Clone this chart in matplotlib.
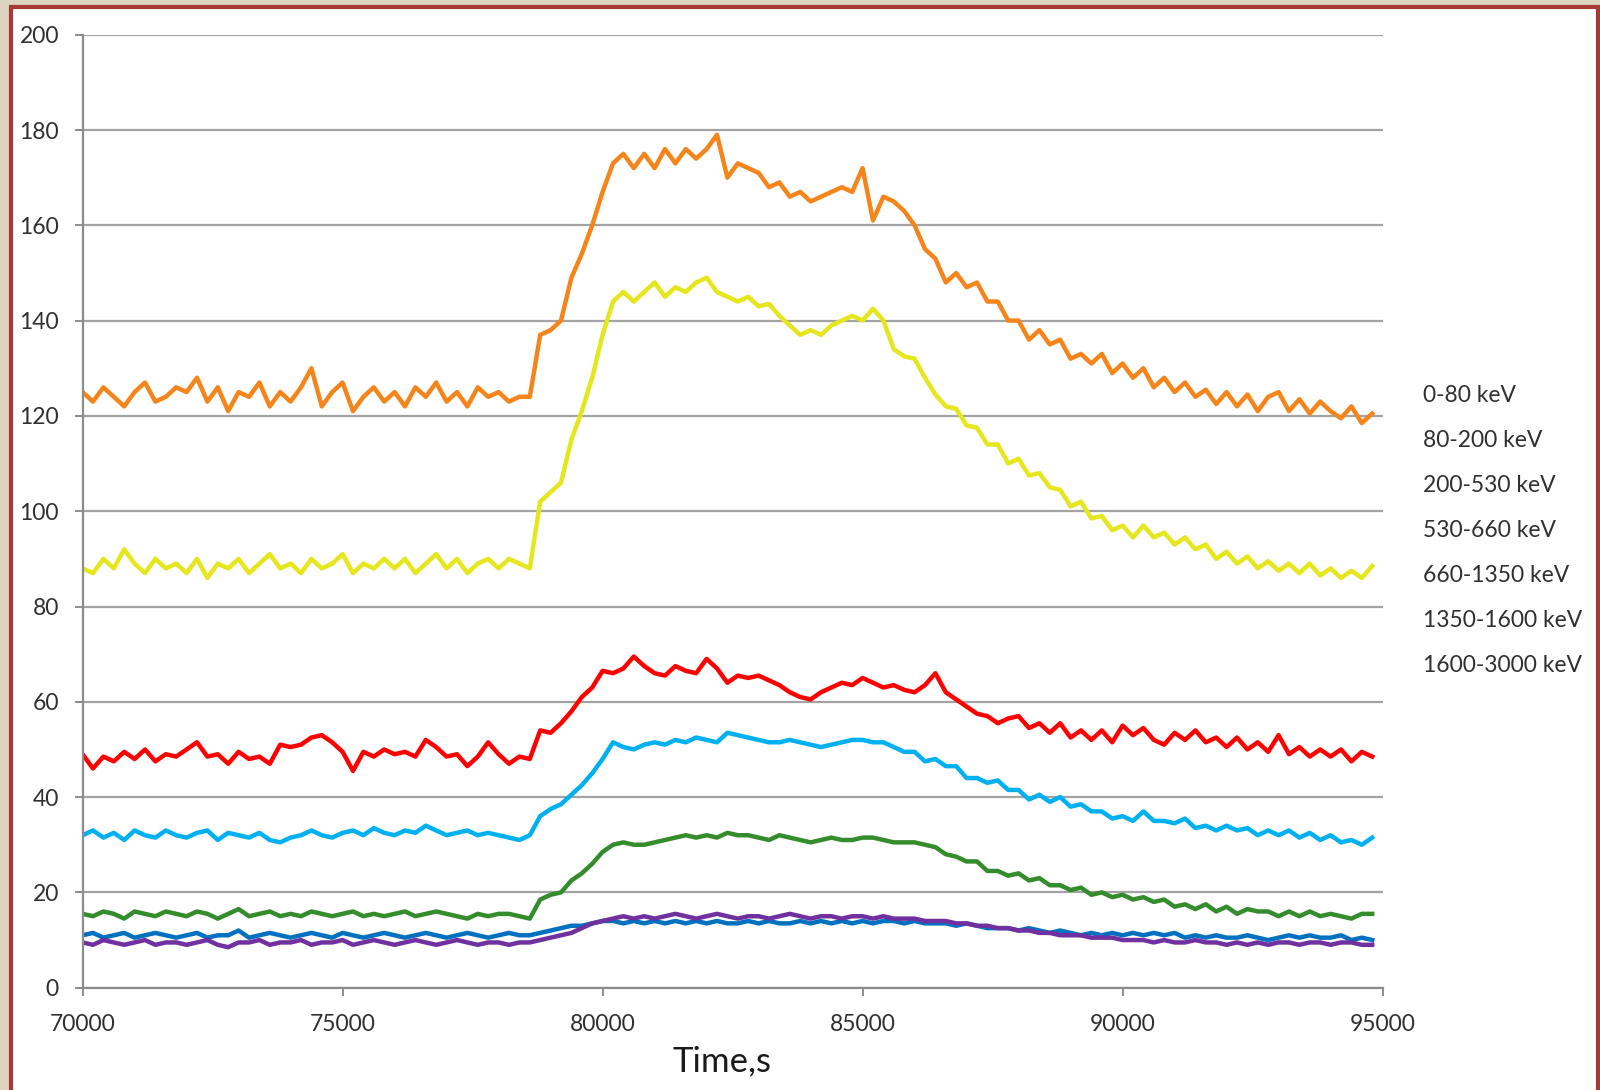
import numpy as np
import matplotlib
matplotlib.use('Agg')
import matplotlib.pyplot as plt
from matplotlib.patches import Rectangle

plt.rcParams['font.family'] = ['Lato', 'DejaVu Sans']

# ---------------- data (one value every 200 s) ----------------
time_s = np.arange(70000, 95000, 200)

band_0_80 = [
    125, 123, 126, 124, 122, 125, 127, 123, 124, 126,
    125, 128, 123, 126, 121, 125, 124, 127, 122, 125,
    123, 126, 130, 122, 125, 127, 121, 124, 126, 123,
    125, 122, 126, 124, 127, 123, 125, 122, 126, 124,
    125, 123, 124, 124, 137, 138, 140, 149, 154, 160,
    167, 173, 175, 172, 175, 172, 176, 173, 176, 174,
    176, 179, 170, 173, 172, 171, 168, 169, 166, 167,
    165, 166, 167, 168, 167, 172, 161, 166, 165, 163,
    160, 155, 153, 148, 150, 147, 148, 144, 144, 140,
    140, 136, 138, 135, 136, 132, 133, 131, 133, 129,
    131, 128, 130, 126, 128, 125, 127, 124, 125.5, 122.5,
    125, 122, 124.5, 121, 124, 125, 121, 123.5, 120.5, 123,
    121, 119.5, 122, 118.5, 120.5,
]

band_80_200 = [
    88, 87, 90, 88, 92, 89, 87, 90, 88, 89,
    87, 90, 86, 89, 88, 90, 87, 89, 91, 88,
    89, 87, 90, 88, 89, 91, 87, 89, 88, 90,
    88, 90, 87, 89, 91, 88, 90, 87, 89, 90,
    88, 90, 89, 88, 102, 104, 106, 115, 121, 128,
    137, 144, 146, 144, 146, 148, 145, 147, 146, 148,
    149, 146, 145, 144, 145, 143, 143.5, 141, 139, 137,
    138, 137, 139, 140, 141, 140, 142.5, 140, 134, 132.5,
    132, 128, 124.5, 122, 121.5, 118, 117.5, 114, 114, 110,
    111, 107.5, 108, 105, 104.5, 101, 102, 98.5, 99, 96,
    97, 94.5, 97, 94.5, 95.5, 93, 94.5, 92, 93, 90,
    91.5, 89, 90.5, 88, 89.5, 87.5, 89, 87, 89, 86.5,
    88, 86, 87.5, 86, 88.5,
]

band_200_530 = [
    49, 46, 48.5, 47.5, 49.5, 48, 50, 47.5, 49, 48.5,
    50, 51.5, 48.5, 49, 47, 49.5, 48, 48.5, 47, 51,
    50.5, 51, 52.5, 53, 51.5, 49.5, 45.5, 49.5, 48.5, 50,
    49, 49.5, 48.5, 52, 50.5, 48.5, 49, 46.5, 48.5, 51.5,
    49, 47, 48.5, 48, 54, 53.5, 55.5, 58, 61, 63,
    66.5, 66, 67, 69.5, 67.5, 66, 65.5, 67.5, 66.5, 66,
    69, 67, 64, 65.5, 65, 65.5, 64.5, 63.5, 62, 61,
    60.5, 62, 63, 64, 63.5, 65, 64, 63, 63.5, 62.5,
    62, 63.5, 66, 62, 60.5, 59, 57.5, 57, 55.5, 56.5,
    57, 54.5, 55.5, 53.5, 55.5, 52.5, 54, 52, 54, 51.5,
    55, 53, 54.5, 52, 51, 53.5, 52, 54, 51.5, 52.5,
    50.5, 52.5, 50, 51.5, 49.5, 53, 49, 50.5, 48.5, 50,
    48.5, 50, 47.5, 49.5, 48.5,
]

band_530_660 = [
    32, 33, 31.5, 32.5, 31, 33, 32, 31.5, 33, 32,
    31.5, 32.5, 33, 31, 32.5, 32, 31.5, 32.5, 31, 30.5,
    31.5, 32, 33, 32, 31.5, 32.5, 33, 32, 33.5, 32.5,
    32, 33, 32.5, 34, 33, 32, 32.5, 33, 32, 32.5,
    32, 31.5, 31, 32, 36, 37.5, 38.5, 40.5, 42.5, 45,
    48, 51.5, 50.5, 50, 51, 51.5, 51, 52, 51.5, 52.5,
    52, 51.5, 53.5, 53, 52.5, 52, 51.5, 51.5, 52, 51.5,
    51, 50.5, 51, 51.5, 52, 52, 51.5, 51.5, 50.5, 49.5,
    49.5, 47.5, 48, 46.5, 46.5, 44, 44, 43, 43.5, 41.5,
    41.5, 39.5, 40.5, 39, 40, 38, 38.5, 37, 37, 35.5,
    36, 35, 37, 35, 35, 34.5, 35.5, 33.5, 34, 33,
    34, 33, 33.5, 32, 33, 32, 33, 31.5, 32.5, 31,
    32, 30.5, 31, 30, 31.5,
]

band_660_1350 = [
    15.5, 15, 16, 15.5, 14.5, 16, 15.5, 15, 16, 15.5,
    15, 16, 15.5, 14.5, 15.5, 16.5, 15, 15.5, 16, 15,
    15.5, 15, 16, 15.5, 15, 15.5, 16, 15, 15.5, 15,
    15.5, 16, 15, 15.5, 16, 15.5, 15, 14.5, 15.5, 15,
    15.5, 15.5, 15, 14.5, 18.5, 19.5, 20, 22.5, 24, 26,
    28.5, 30, 30.5, 30, 30, 30.5, 31, 31.5, 32, 31.5,
    32, 31.5, 32.5, 32, 32, 31.5, 31, 32, 31.5, 31,
    30.5, 31, 31.5, 31, 31, 31.5, 31.5, 31, 30.5, 30.5,
    30.5, 30, 29.5, 28, 27.5, 26.5, 26.5, 24.5, 24.5, 23.5,
    24, 22.5, 23, 21.5, 21.5, 20.5, 21, 19.5, 20, 19,
    19.5, 18.5, 19, 18, 18.5, 17, 17.5, 16.5, 17.5, 16,
    17, 15.5, 16.5, 16, 16, 15, 16, 15, 16, 15,
    15.5, 15, 14.5, 15.5, 15.5,
]

band_1350_1600 = [
    11, 11.5, 10.5, 11, 11.5, 10.5, 11, 11.5, 11, 10.5,
    11, 11.5, 10.5, 11, 11, 12, 10.5, 11, 11.5, 11,
    10.5, 11, 11.5, 11, 10.5, 11.5, 11, 10.5, 11, 11.5,
    11, 10.5, 11, 11.5, 11, 10.5, 11, 11.5, 11, 10.5,
    11, 11.5, 11, 11, 11.5, 12, 12.5, 13, 13, 13.5,
    14, 14, 13.5, 14, 13.5, 14, 13.5, 14, 13.5, 14,
    13.5, 14, 13.5, 13.5, 14, 13.5, 14, 13.5, 13.5, 14,
    13.5, 14, 13.5, 14, 13.5, 14, 13.5, 14, 14, 13.5,
    14, 13.5, 13.5, 13.5, 13, 13.5, 13, 12.5, 12.5, 12.5,
    12, 12.5, 12, 11.5, 12, 11.5, 11, 11.5, 11, 11.5,
    11, 11.5, 11, 11.5, 11, 11.5, 10.5, 11, 10.5, 11,
    10.5, 10.5, 11, 10.5, 10, 10.5, 11, 10.5, 11, 10.5,
    10.5, 11, 10, 10.5, 10,
]

band_1600_3000 = [
    9.5, 9, 10, 9.5, 9, 9.5, 10, 9, 9.5, 9.5,
    9, 9.5, 10, 9, 8.5, 9.5, 9.5, 10, 9, 9.5,
    9.5, 10, 9, 9.5, 9.5, 10, 9, 9.5, 10, 9.5,
    9, 9.5, 10, 9.5, 9, 9.5, 10, 9.5, 9, 9.5,
    9.5, 9, 9.5, 9.5, 10, 10.5, 11, 11.5, 12.5, 13.5,
    14, 14.5, 15, 14.5, 15, 14.5, 15, 15.5, 15, 14.5,
    15, 15.5, 15, 14.5, 15, 15, 14.5, 15, 15.5, 15,
    14.5, 15, 15, 14.5, 15, 15, 14.5, 15, 14.5, 14.5,
    14.5, 14, 14, 14, 13.5, 13.5, 13, 13, 12.5, 12.5,
    12, 12, 11.5, 11.5, 11, 11, 11, 10.5, 10.5, 10.5,
    10, 10, 10, 9.5, 10, 9.5, 9.5, 10, 9.5, 9.5,
    9, 9.5, 9, 9.5, 9, 9.5, 9.5, 9, 9.5, 9.5,
    9, 9.5, 9.5, 9, 9,
]

series_values = [band_0_80, band_80_200, band_200_530, band_530_660,
                 band_660_1350, band_1350_1600, band_1600_3000]
series_labels = ['0-80 keV', '80-200 keV', '200-530 keV', '530-660 keV',
                 '660-1350 keV', '1350-1600 keV', '1600-3000 keV']
series_colors = ['#f5841a', '#e6e61c', '#ff0000', '#00b0f0',
                 '#348c2c', '#0070c0', '#7030a0']

x_ticks = [70000, 75000, 80000, 85000, 90000, 95000]
y_ticks = [0, 20, 40, 60, 80, 100, 120, 140, 160, 180, 200]
x_label = 'Time,s'

# ---------------- figure ----------------
W, H = 1600, 1090
fig = plt.figure(figsize=(W / 100, H / 100), dpi=100, facecolor='#ddd3bf')

# white chart area with a dark red frame (behind the axes)
fig.patches.append(Rectangle((11 / W, -0.05), (1598 - 11) / W, (H - 7) / H + 0.05,
                             transform=fig.transFigure, facecolor='white',
                             edgecolor='#a63b35', linewidth=3, zorder=-10))

ax = fig.add_axes([82.6 / W, (H - 987.7) / H, 1300 / W, (987.7 - 34.7) / H])
ax.set_zorder(5)
ax.set_facecolor('white')

for vals, lab, col in zip(series_values, series_labels, series_colors):
    ax.plot(time_s, vals, color=col, lw=3.2, label=lab, solid_joinstyle='round')

ax.set_xlim(70000, 95000)
ax.set_ylim(0, 200)
ax.set_xticks(x_ticks)
ax.set_yticks(y_ticks)
ax.set_xticklabels([str(v) for v in x_ticks])
ax.set_yticklabels([str(v) for v in y_ticks])

ax.yaxis.grid(True, color='#a3a3a3', lw=1.6)
ax.set_axisbelow(True)
for s in ['top', 'right']:
    ax.spines[s].set_visible(False)
for s in ['left', 'bottom']:
    ax.spines[s].set_color('#8c8c8c')
    ax.spines[s].set_linewidth(1.6)

ax.tick_params(axis='both', direction='out', length=6, width=1.4, color='#8c8c8c',
               labelsize=16.5, labelcolor='#303030')
ax.tick_params(axis='y', pad=11)
ax.tick_params(axis='x', pad=13)

leg = ax.legend(frameon=False, handlelength=0, handletextpad=0, loc='upper left',
                bbox_to_anchor=(1423 / W, 1 - 385 / H), bbox_transform=fig.transFigure,
                fontsize=16.5, labelspacing=1.05, borderpad=0, borderaxespad=0)
for h in leg.legend_handles:
    h.set_visible(False)
for t in leg.get_texts():
    t.set_color('#303030')

fig.text(722 / W, 1 - 1061 / H, x_label, ha='center', va='center',
         fontsize=25, color='#1a1a1a', zorder=10)

fig.savefig('out.png', dpi=100, facecolor=fig.get_facecolor())
